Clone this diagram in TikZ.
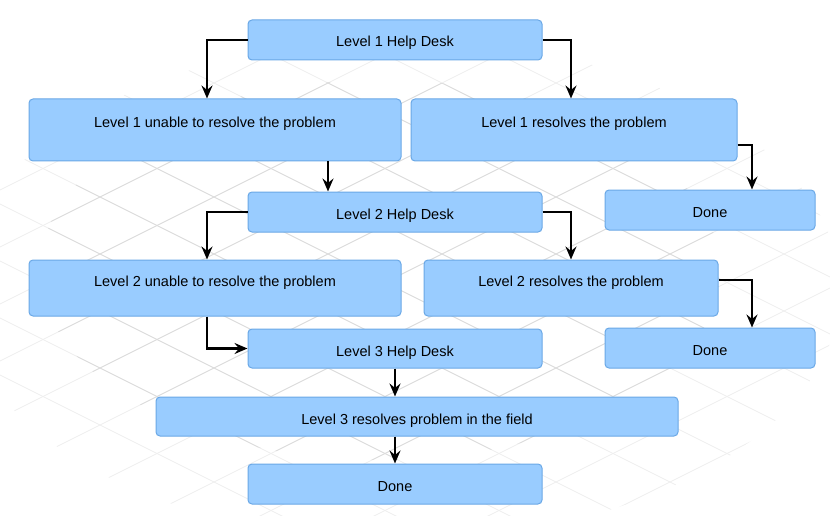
\documentclass[tikz,border=0pt]{standalone}
\usepackage{fontspec}
\setmainfont{Liberation Sans}
\usetikzlibrary{arrows.meta}
\definecolor{boxfill}{HTML}{99CCFF}
\definecolor{boxline}{HTML}{6AA8E6}
\definecolor{gridlight}{HTML}{EFEFEF}
\definecolor{griddark}{HTML}{DCDCDC}
\begin{document}
\begin{tikzpicture}[x=1pt,y=-1pt,
  box/.style={rectangle,rounded corners=4pt,fill=boxfill,draw=boxline,line width=1pt,
    inner sep=0pt,font=\fontsize{14.5}{17}\selectfont,text=black},
  sbox/.style={box,minimum width=#1,text height=27pt,text depth=13pt},
  tbox/.style={box,minimum width=#1,text height=29pt,text depth=33pt},
  mbox/.style={box,minimum width=#1,text height=26pt,text depth=30pt},
  arr/.style={line width=2.4pt,-{Stealth[length=13pt,width=11pt,inset=4.5pt]}},
  gridl/.style={line width=0.8pt}]
\useasboundingbox (0,0) rectangle (830,516);
\fill[white] (0,0) rectangle (830,516);
% background grid (faint, brighter towards the edges)
\begin{scope}
\clip (400,290) ellipse (440pt and 250pt);
\foreach \k in {-14,...,14}{
  \draw[gridl,draw=gridlight] (0,{147+57*\k}) -- (830,{147+57*\k+415});
  \draw[gridl,draw=gridlight] (0,{247+57*\k}) -- (830,{247+57*\k-415});
}
\end{scope}
\begin{scope}
\clip (380,270) ellipse (340pt and 190pt);
\foreach \k in {-14,...,14}{
  \draw[gridl,draw=griddark] (0,{147+57*\k}) -- (830,{147+57*\k+415});
  \draw[gridl,draw=griddark] (0,{247+57*\k}) -- (830,{247+57*\k-415});
}
\end{scope}
% nodes
\node[sbox=294pt] (l1hd) at (395,40) {Level 1 Help Desk};
\node[tbox=372pt] (l1u) at (215,130) {Level 1 unable to resolve the problem};
\node[tbox=326pt] (l1r) at (574,130) {Level 1 resolves the problem};
\node[sbox=210pt] (done1) at (710,210) {Done};
\node[sbox=294pt] (l2hd) at (395,212) {Level 2 Help Desk};
\node[mbox=372pt] (l2u) at (215,288) {Level 2 unable to resolve the problem};
\node[mbox=294pt] (l2r) at (571,288) {Level 2 resolves the problem};
\node[sbox=294pt,text depth=12pt] (l3hd) at (395,348.5) {Level 3 Help Desk};
\node[sbox=210pt] (done2) at (710,348) {Done};
\node[sbox=522pt,text depth=12pt] (l3f) at (417,416.5) {Level 3 resolves problem in the field};
\node[sbox=294pt] (done3) at (395,484) {Done};
% helper coordinates
\coordinate (c1) at (328,0);
\coordinate (c2) at (752,0);
% connectors
\draw[arr] (l1hd.west) -| ([xshift=-8pt]l1u.north);
\draw[arr] (l1hd.east) -| ([xshift=-3pt]l1r.north);
\draw[arr] (l1u.south -| c1) -- (l2hd.north -| c1);
\draw[arr] ([yshift=-15pt]l1r.east) -| (done1.north -| c2);
\draw[arr] (l2hd.west) -| ([xshift=-8pt]l2u.north);
\draw[arr] (l2hd.east) -| (l2r.north);
\draw[arr] ([xshift=-8pt]l2u.south) |- (l3hd.west);
\draw[arr] ([yshift=8pt]l2r.east) -| (done2.north -| c2);
\draw[arr] (l3hd.south) -- (l3hd.south |- l3f.north);
\draw[arr] (done3.north |- l3f.south) -- (done3.north);
\end{tikzpicture}
\end{document}
